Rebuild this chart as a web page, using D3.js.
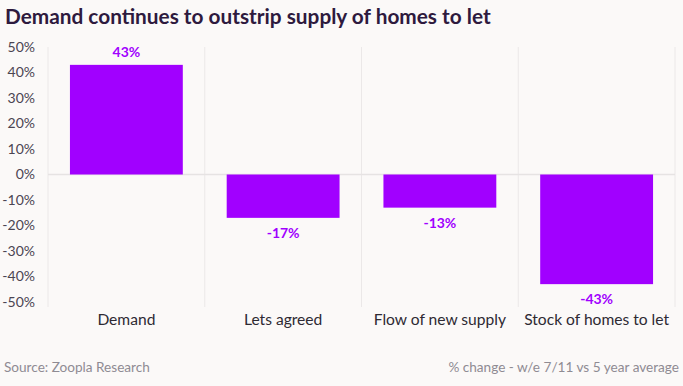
<!DOCTYPE html>
<html>
<head>
<meta charset="utf-8">
<script src="https://cdn.jsdelivr.net/npm/d3@7"></script>
<style>
  body { margin: 0; background: #fbf9f8; }
  svg { display: block; }
</style>
</head>
<body>
<div id="chart"></div>
<script>
// Podaci
const kategorije = ["Demand", "Lets agreed", "Flow of new supply", "Stock of homes to let"];
const vrijednosti = [43, -17, -13, -43];
const yTicks = [50, 40, 30, 20, 10, 0, -10, -20, -30, -40, -50];

const naslov = "Demand continues to outstrip supply of homes to let";
const izvor = "Source: Zoopla Research";
const biljeska = "% change - w/e 7/11 vs 5 year average";

const dimenzije = {
    sirina: 683,
    visina: 386,
    margine: { top: 47, right: 8, bottom: 84, left: 48 }
};
dimenzije.grSirina = dimenzije.sirina - dimenzije.margine.left - dimenzije.margine.right;
dimenzije.grVisina = dimenzije.visina - dimenzije.margine.top - dimenzije.margine.bottom;

const boja = "#a100ff";
const font = "Lato, 'Open Sans', sans-serif";

const svg = d3.select("#chart")
    .append("svg")
    .attr("width", dimenzije.sirina)
    .attr("height", dimenzije.visina)
    .style("background", "#fbf9f8");

svg.append("text")
    .attr("x", 5)
    .attr("y", 24)
    .attr("font-family", font)
    .attr("font-weight", 700)
    .attr("font-size", 20.8)
    .attr("fill", "#2e1a3e")
    .text(naslov);

const granice = svg.append("g")
    .attr("transform", `translate(${dimenzije.margine.left},${dimenzije.margine.top})`);

const xScale = d3.scaleBand()
    .domain(kategorije)
    .range([0, dimenzije.grSirina])
    .paddingInner(0.28)
    .paddingOuter(0.14);

const yScale = d3.scaleLinear()
    .domain([-50, 50])
    .range([dimenzije.grVisina, 0]);

// Vertikalne linije izmedju kategorija
const korak = xScale.step();
const granicePoz = d3.range(kategorije.length + 1).map(i => xScale(kategorije[0]) - xScale.paddingOuter() * korak + i * korak);
granice.selectAll(".sep")
    .data(granicePoz)
    .join("line")
    .attr("x1", d => d)
    .attr("x2", d => d)
    .attr("y1", 0)
    .attr("y2", dimenzije.grVisina + 5)
    .attr("stroke", "#ebe8e8")
    .attr("stroke-width", 1);

// Y os
const yAxis = granice.append("g")
    .call(d3.axisLeft(yScale).tickValues(yTicks).tickFormat(d => d + "%").tickSize(0).tickPadding(13));
yAxis.select(".domain").remove();
yAxis.selectAll("text")
    .attr("font-family", font)
    .attr("font-size", 14)
    .attr("fill", "#4b4552");

// Nulta linija
granice.append("line")
    .attr("x1", 0)
    .attr("x2", dimenzije.grSirina)
    .attr("y1", yScale(0))
    .attr("y2", yScale(0))
    .attr("stroke", "#e6e3e3")
    .attr("stroke-width", 1.5);

// Stupci
granice.selectAll(".bar")
    .data(vrijednosti)
    .join("rect")
    .attr("x", (d, i) => xScale(kategorije[i]))
    .attr("y", d => yScale(Math.max(0, d)))
    .attr("width", xScale.bandwidth())
    .attr("height", d => Math.abs(yScale(d) - yScale(0)))
    .attr("fill", boja);

// Oznake vrijednosti
granice.selectAll(".lbl")
    .data(vrijednosti)
    .join("text")
    .attr("x", (d, i) => xScale(kategorije[i]) + xScale.bandwidth() / 2)
    .attr("y", d => d >= 0 ? yScale(d) - 8 : yScale(d) + 20)
    .attr("text-anchor", "middle")
    .attr("font-family", font)
    .attr("font-weight", 700)
    .attr("font-size", 14)
    .attr("fill", boja)
    .text(d => d + "%");

// X os
const xAxis = granice.append("g")
    .attr("transform", `translate(0,${dimenzije.grVisina})`)
    .call(d3.axisBottom(xScale).tickSize(0).tickPadding(12));
xAxis.select(".domain").remove();
xAxis.selectAll("text")
    .attr("font-family", font)
    .attr("font-size", 15.6)
    .attr("fill", "#2e2a33");

// Podnozje
svg.append("text")
    .attr("x", 4)
    .attr("y", 372)
    .attr("font-family", font)
    .attr("font-size", 13.6)
    .attr("fill", "#8f8b93")
    .text(izvor);

svg.append("text")
    .attr("x", 679)
    .attr("y", 372)
    .attr("text-anchor", "end")
    .attr("font-family", font)
    .attr("font-size", 13.6)
    .attr("fill", "#8f8b93")
    .text(biljeska);
</script>
</body>
</html>
